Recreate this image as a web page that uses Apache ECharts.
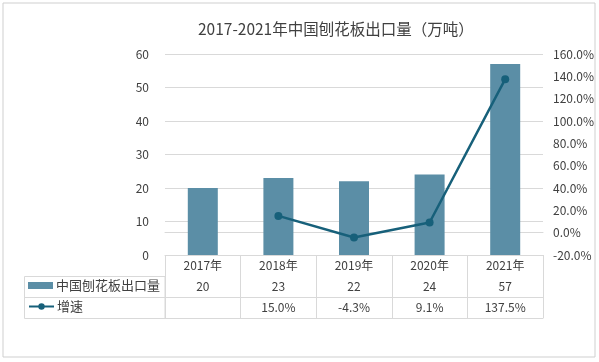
<!DOCTYPE html>
<html><head><meta charset="utf-8">
<script src="https://cdn.jsdelivr.net/npm/echarts@6/dist/echarts.min.js"></script>
<style>html,body{margin:0;padding:0;background:#fff}#c{width:599px;height:362px}</style>
</head><body><div id="c"></div>
<script>
const titleText = '2017-2021年中国刨花板出口量（万吨）';
const categories = ['2017年','2018年','2019年','2020年','2021年'];
const exportName = '中国刨花板出口量';
const exportVals = [20, 23, 22, 24, 57];
const rateName = '增速';
const rateVals = [null, 15.0, -4.3, 9.1, 137.5];
const leftTicks = {min: 0, max: 60, interval: 10};
const rightTicks = {min: -20, max: 160, interval: 20};

const FONT = '"Noto Sans CJK SC", "Noto Sans", sans-serif';
const LINE = '#d9d9d9';
const TXT = '#404040';
const BAR = '#5b8ea6';
const LN = '#17607a';

const chart = echarts.init(document.getElementById('c'), null, {renderer: 'canvas'});
const rowAxis = (offset, fmt, showLabel) => ({
  type: 'category', data: categories, gridIndex: 0, position: 'bottom', offset: offset,
  axisLine: {show: true, lineStyle: {color: LINE, width: 1}},
  axisTick: {show: false},
  axisLabel: {show: showLabel, interval: 0, margin: 4, fontSize: 12, color: TXT, fontFamily: FONT, formatter: fmt},
  splitLine: {show: false}
});
chart.setOption({
  animation: false,
  textStyle: {fontFamily: FONT},
  title: {text: titleText, left: 193, top: 16,
    textStyle: {fontSize: 15.5, fontWeight: 'normal', color: TXT, fontFamily: FONT}},
  legend: [
    {data: [{name: exportName, icon: 'rect'}], left: 28, top: 279, padding: 0, itemWidth: 25, itemHeight: 7, itemGap: 4,
     textStyle: {fontSize: 13, color: TXT, fontFamily: FONT, padding: [0,0,0,-2]}},
    {data: [rateName], left: 28, top: 300, padding: 0, itemWidth: 25, itemHeight: 8, itemGap: 4,
     textStyle: {fontSize: 13, color: TXT, fontFamily: FONT, padding: [0,0,0,-2]}}
  ],
  grid: {left: 165, right: 56, top: 54, bottom: 107, containLabel: false},
  xAxis: [
    Object.assign(rowAxis(0, (v) => v, true), {
      axisTick: {show: true, interval: 0, length: 63, lineStyle: {color: LINE}}
    }),
    rowAxis(21, (v, i) => String(exportVals[i]), true),
    rowAxis(42, (v, i) => rateVals[i] == null ? '' : rateVals[i].toFixed(1) + '%', true),
    rowAxis(63, () => '', false)
  ],
  yAxis: [
    {type: 'value', min: leftTicks.min, max: leftTicks.max, interval: leftTicks.interval,
     axisLine: {show: false}, axisTick: {show: false},
     axisLabel: {margin: 16, fontSize: 12, color: TXT, fontFamily: FONT},
     splitLine: {lineStyle: {color: LINE, width: 1}}},
    {type: 'value', min: rightTicks.min, max: rightTicks.max, interval: rightTicks.interval, position: 'right',
     axisLine: {show: false}, axisTick: {show: false},
     axisLabel: {margin: 10, fontSize: 12, color: TXT, fontFamily: FONT, formatter: (v) => v.toFixed(1) + '%'},
     splitLine: {show: false}}
  ],
  series: [
    {name: exportName, type: 'bar', xAxisIndex: 0, yAxisIndex: 0, data: exportVals, barWidth: 30,
     itemStyle: {color: BAR}},
    {name: rateName, type: 'line', xAxisIndex: 0, yAxisIndex: 1, data: rateVals,
     symbol: 'circle', symbolSize: 8, showSymbol: true,
     lineStyle: {color: LN, width: 2.5}, itemStyle: {color: LN}}
  ],
  graphic: [
    {type: 'rect', shape: {x: 3, y: 3, width: 592, height: 354}, style: {fill: 'none', stroke: '#cfcfcf', lineWidth: 1}, silent: true},
    {type: 'rect', shape: {x: 24.5, y: 276.5, width: 140.5, height: 42}, style: {fill: 'none', stroke: LINE, lineWidth: 1}, silent: true},
    {type: 'line', shape: {x1: 24.5, y1: 297.5, x2: 165, y2: 297.5}, style: {stroke: LINE, lineWidth: 1}, silent: true}
  ]
});
</script></body></html>
